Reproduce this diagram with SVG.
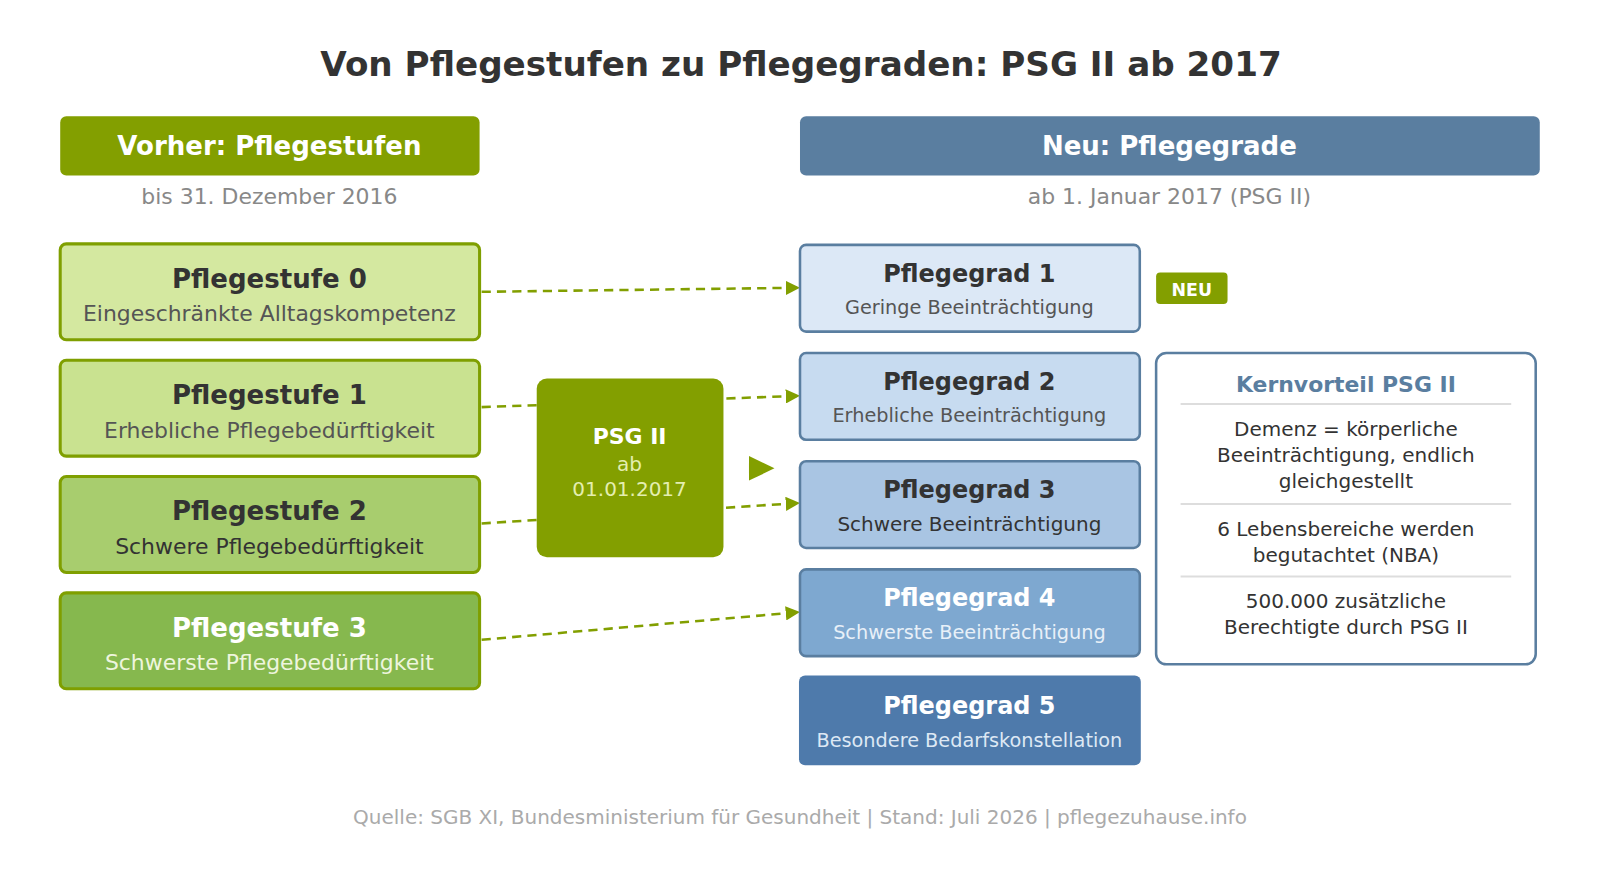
<svg xmlns="http://www.w3.org/2000/svg" width="1600" height="872" viewBox="0 0 1600 872">
<style>
text{font-family:"DejaVu Sans","Noto Sans",sans-serif;text-anchor:middle}
.t{font-weight:bold;font-size:25.5px}
.tg{font-weight:bold;font-size:23.5px}
.s{font-size:21.5px}
.st{stroke:#7f9f00;stroke-width:3}
.g{stroke:#5a7ea0;stroke-width:2.5}
.c{stroke:#829f00;stroke-width:2.5;stroke-dasharray:9 6;fill:none;marker-end:url(#a)}
.k{font-size:19.6px;fill:#333}
.ks{font-size:18.9px}
</style>
<defs><marker id="a" markerWidth="14" markerHeight="14" refX="12" refY="7" orient="auto" markerUnits="userSpaceOnUse"><path d="M0,0L14,7L0,14z" fill="#829f00"/></marker></defs>
<rect width="1600" height="872" fill="#fff"/>
<g transform="scale(1.0204)">
<text x="785" y="74" style="font-size:33.5px;font-weight:bold;fill:#333">Von Pflegestufen zu Pflegegraden: PSG II ab 2017</text>
<g id="hdrL"><rect x="59" y="114" width="411" height="58" rx="6" fill="#839f00"/><text x="264" y="152" style="font-size:25.5px;font-weight:bold;fill:#fff">Vorher: Pflegestufen</text><text x="264" y="200" class="s" fill="#888">bis 31. Dezember 2016</text></g>
<g id="hdrR"><rect x="784" y="114" width="725" height="58" rx="6" fill="#5a7ea0"/><text x="1146" y="152" style="font-size:25.5px;font-weight:bold;fill:#fff">Neu: Pflegegrade</text><text x="1146" y="200" class="s" fill="#888">ab 1. Januar 2017 (PSG II)</text></g>
<g id="conn">
<path class="c" d="M472,286L782,282"/>
<path class="c" d="M472,399L782,388"/>
<path class="c" d="M472,513L782,493"/>
<path class="c" d="M472,627L782,600"/>
</g>
<g id="s0"><rect x="59" y="239" width="411" height="94" rx="6" fill="#d4e8a0" class="st"/><text x="264" y="282" class="t" fill="#333">Pflegestufe 0</text><text x="264" y="315" class="s" fill="#555">Eingeschränkte Alltagskompetenz</text></g>
<g id="s1"><rect x="59" y="353" width="411" height="94" rx="6" fill="#c9e290" class="st"/><text x="264" y="396" class="t" fill="#333">Pflegestufe 1</text><text x="264" y="429" class="s" fill="#555">Erhebliche Pflegebedürftigkeit</text></g>
<g id="s2"><rect x="59" y="467" width="411" height="94" rx="6" fill="#a8cd6e" class="st"/><text x="264" y="510" class="t" fill="#333">Pflegestufe 2</text><text x="264" y="543" class="s" fill="#333">Schwere Pflegebedürftigkeit</text></g>
<g id="s3"><rect x="59" y="581" width="411" height="94" rx="6" fill="#86b84e" class="st"/><text x="264" y="624" class="t" fill="#fff">Pflegestufe 3</text><text x="264" y="657" class="s" fill="#eef5dd">Schwerste Pflegebedürftigkeit</text></g>
<g id="psg"><rect x="526" y="371" width="183" height="175" rx="10" fill="#839f00"/><text x="617" y="435" style="font-size:21.5px;font-weight:bold;fill:#fff">PSG II</text><text x="617" y="462" class="k" style="fill:#e4eeb0">ab</text><text x="617" y="486" class="k" style="fill:#e4eeb0">01.01.2017</text></g>
<path d="M734,447L759,459L734,471z" fill="#839f00"/>
<g id="g1"><rect x="784" y="240" width="333" height="85" rx="6" fill="#dce8f6" class="g"/><text x="950" y="276" class="tg" fill="#333">Pflegegrad 1</text><text x="950" y="308" class="ks" style="fill:#555">Geringe Beeinträchtigung</text></g>
<g id="neu"><rect x="1133" y="267" width="70" height="31" rx="4" fill="#839f00"/><text x="1168" y="290" style="font-size:17px;font-weight:bold;fill:#fff">NEU</text></g>
<g id="g2"><rect x="784" y="346" width="333" height="85" rx="6" fill="#c7dbf0" class="g"/><text x="950" y="382" class="tg" fill="#333">Pflegegrad 2</text><text x="950" y="414" class="ks" style="fill:#555">Erhebliche Beeinträchtigung</text></g>
<g id="g3"><rect x="784" y="452" width="333" height="85" rx="6" fill="#a9c5e3" class="g"/><text x="950" y="488" class="tg" fill="#333">Pflegegrad 3</text><text x="950" y="520" class="k" style="fill:#333">Schwere Beeinträchtigung</text></g>
<g id="g4"><rect x="784" y="558" width="333" height="85" rx="6" fill="#7ea8d0" class="g"/><text x="950" y="594" class="tg" fill="#fff">Pflegegrad 4</text><text x="950" y="626" class="ks" style="fill:#e8f0f8">Schwerste Beeinträchtigung</text></g>
<g id="g5"><rect x="783" y="662" width="335" height="88" rx="6" fill="#4e7aab"/><text x="950" y="700" class="tg" fill="#fff">Pflegegrad 5</text><text x="950" y="732" class="ks" style="fill:#dde8f4">Besondere Bedarfskonstellation</text></g>
<g id="kern"><rect x="1133" y="346" width="372" height="305" rx="10" fill="#fff" class="g"/>
<text x="1319" y="384" style="font-size:21.5px;font-weight:bold;fill:#5a7ea0">Kernvorteil PSG II</text>
<path d="M1157,396H1481M1157,494H1481M1157,565H1481" stroke="#ddd" stroke-width="2"/>
<text x="1319" y="427" class="k">Demenz = körperliche</text><text x="1319" y="453" class="k">Beeinträchtigung, endlich</text><text x="1319" y="478" class="k">gleichgestellt</text>
<text x="1319" y="525" class="k">6 Lebensbereiche werden</text><text x="1319" y="551" class="k">begutachtet (NBA)</text>
<text x="1319" y="596" class="k">500.000 zusätzliche</text><text x="1319" y="621" class="k">Berechtigte durch PSG II</text></g>
<text x="784" y="808" style="font-size:19.6px;fill:#aaa">Quelle: SGB XI, Bundesministerium für Gesundheit | Stand: Juli 2026 | pflegezuhause.info</text>
</g>
</svg>
